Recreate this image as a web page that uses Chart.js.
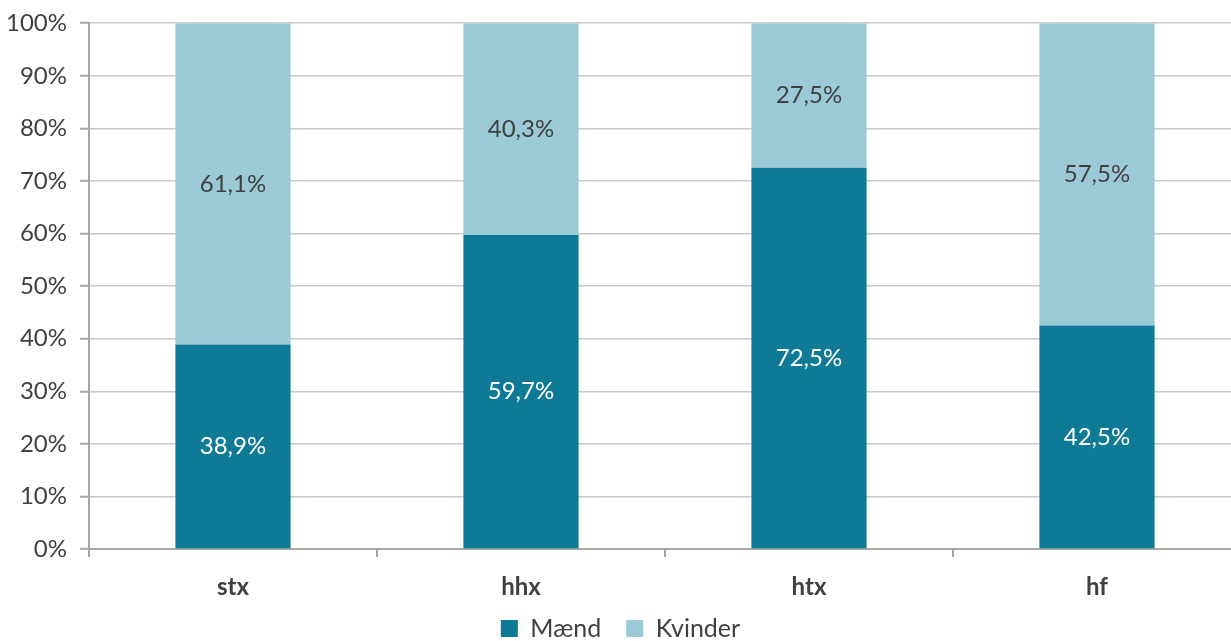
<!DOCTYPE html>
<html>
<head>
<meta charset="utf-8">
<script src="https://cdn.jsdelivr.net/npm/chart.js@4/dist/chart.umd.min.js"></script>
<style>
  html, body { margin: 0; padding: 0; background: #fff; overflow: hidden; }
  #wrap { width: 1231px; height: 641px; overflow: hidden; }
</style>
</head>
<body>
<div id="wrap"><canvas id="chart" width="1241" height="641"></canvas></div>
<script>
const categories = ['stx', 'hhx', 'htx', 'hf'];
const maend = [38.9, 59.7, 72.5, 42.5];
const kvinder = [61.1, 40.3, 27.5, 57.5];

const darkBlue = '#0f7a96';
const lightBlue = '#9bcad6';
const textColor = '#404040';
const axisGrey = '#a6a6a6';

// draws the percentage inside each bar segment
const barLabels = {
    id: 'barLabels',
    afterDatasetsDraw(chart) {
        const ctx = chart.ctx;
        ctx.save();
        ctx.font = '24px Lato';
        ctx.textAlign = 'center';
        ctx.textBaseline = 'middle';
        chart.data.datasets.forEach((ds, i) => {
            const meta = chart.getDatasetMeta(i);
            meta.data.forEach((bar, j) => {
                const mid = (bar.y + bar.base) / 2;
                ctx.fillStyle = i === 0 ? '#ffffff' : textColor;
                ctx.fillText(ds.data[j].toFixed(1).replace('.', ',') + '%', bar.x, mid);
            });
        });
        ctx.restore();
    }
};

// x axis is kept short so the legend sits low; let its labels spill below without clipping
const unclipX = {
    id: 'unclipX',
    afterLayout(chart) {
        chart.scales.x.bottom = chart.height;
    }
};

new Chart(document.getElementById('chart').getContext('2d'), {
    type: 'bar',
    data: {
        labels: categories,
        datasets: [
            { label: 'Mænd', data: maend, backgroundColor: darkBlue },
            { label: 'Kvinder', data: kvinder, backgroundColor: lightBlue }
        ]
    },
    options: {
        responsive: false,
        animation: false,
        devicePixelRatio: 1,
        layout: { padding: { top: 0, right: 0, left: 0, bottom: -10 } },
        datasets: { bar: { barPercentage: 0.4, categoryPercentage: 1 } },
        plugins: {
            legend: {
                position: 'bottom',
                labels: {
                    boxWidth: 17,
                    boxHeight: 17,
                    padding: 25,
                    color: textColor,
                    font: { family: 'Lato', size: 25 }
                }
            },
            tooltip: { enabled: false }
        },
        scales: {
            x: {
                stacked: true,
                border: { color: axisGrey, width: 2 },
                grid: { offset: true, drawOnChartArea: false, tickLength: 8, color: axisGrey, lineWidth: 2 },
                ticks: { color: textColor, padding: 16, font: { family: 'Lato', size: 24, weight: 'bold' } },
                afterFit(axis) { axis.height = 42; }
            },
            y: {
                stacked: true,
                min: 0,
                max: 100,
                border: { color: axisGrey, width: 2 },
                grid: { color: '#c8c8c8', lineWidth: 1.5, tickLength: 9, tickColor: axisGrey, tickWidth: 2 },
                ticks: {
                    stepSize: 10,
                    color: textColor,
                    padding: 13,
                    font: { family: 'Lato', size: 24, lineHeight: 0.85 },
                    callback: v => v + '%'
                },
                afterFit(axis) { axis.width = 89; }
            }
        }
    },
    plugins: [barLabels, unclipX]
});
</script>
</body>
</html>
